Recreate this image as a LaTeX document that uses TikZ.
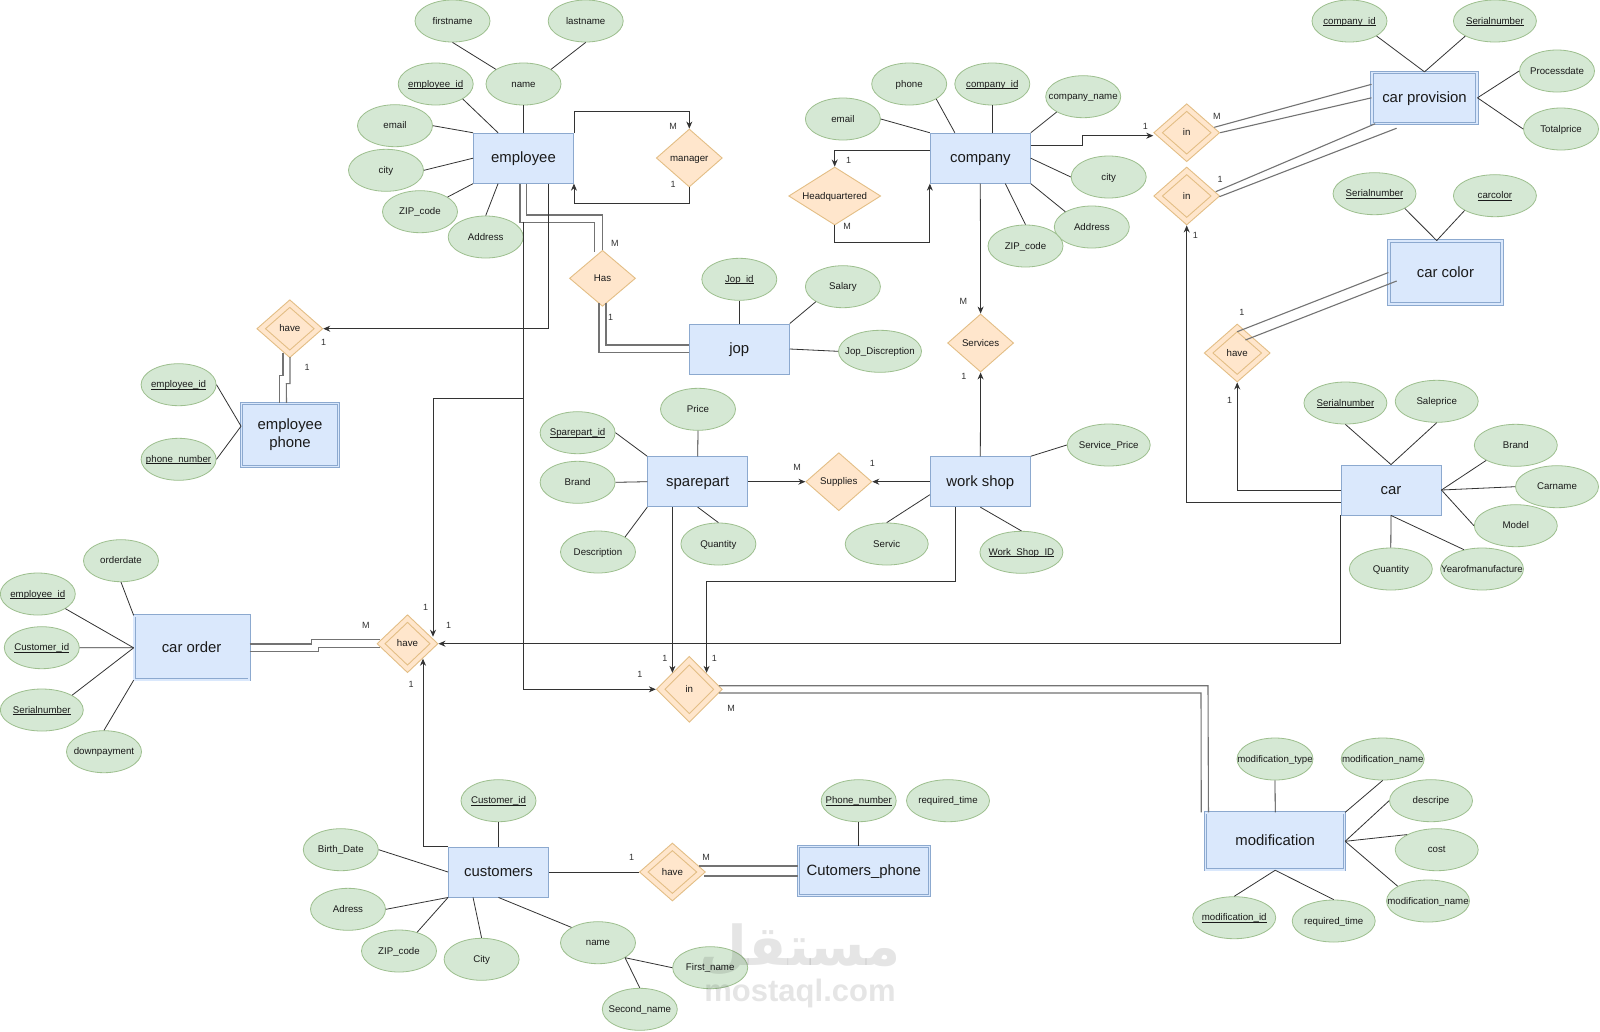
\documentclass[tikz,border=0pt]{standalone}
\usepackage{fontspec}
\setmainfont{Liberation Sans}
\newfontfamily\arabicfont[Script=Arabic]{DejaVu Sans}
\TeXXeTstate=1
\usetikzlibrary{shapes.geometric,arrows.meta,calc}
\newcommand{\zw}[1]{\makebox[0pt]{#1}}
\newsavebox{\kybox}
\newcommand{\ky}[1]{\makebox[0pt]{\sbox{\kybox}{#1}\rlap{\rule[-1.5pt]{\wd\kybox}{.7pt}}\usebox{\kybox}}}
\definecolor{attrfill}{HTML}{D5E8D4}
\definecolor{attrline}{HTML}{9DBF8E}
\definecolor{entfill}{HTML}{DAE8FC}
\definecolor{entline}{HTML}{8CA9CF}
\definecolor{relfill}{HTML}{FFE6CC}
\definecolor{relline}{HTML}{E3BE85}
\definecolor{txt}{HTML}{1A1A1A}
\tikzset{
  attr/.style={ellipse,draw=attrline,fill=attrfill,line width=.8pt,minimum width=75pt,minimum height=42pt,inner sep=0pt,font=\fontsize{9.7}{11}\selectfont,text=txt,text height=7.5pt,text depth=1.5pt},
  attrw/.style={attr,minimum width=83pt},
  ent/.style={rectangle,draw=entline,fill=entfill,line width=.9pt,inner sep=0pt,minimum width=100pt,minimum height=50pt,font=\fontsize{14.9}{18}\selectfont,text=txt,align=center,text height=12pt,text depth=3pt},
  went/.style={ent,double=entfill,double distance=1.4pt},
  rel/.style={diamond,draw=relline,fill=relfill,line width=.9pt,inner sep=0pt,minimum width=66pt,minimum height=58pt,font=\fontsize{9.7}{11}\selectfont,text=txt,text height=7.5pt,text depth=1.5pt},
  wrel/.style={rel,path picture={
    \draw[draw=relline,line width=.9pt]
      ($(path picture bounding box.center)!.74!(path picture bounding box.north)$) --
      ($(path picture bounding box.center)!.74!(path picture bounding box.east)$) --
      ($(path picture bounding box.center)!.74!(path picture bounding box.south)$) --
      ($(path picture bounding box.center)!.74!(path picture bounding box.west)$) -- cycle;}},
  lnk/.style={draw=black!80,line width=.8pt},
  arr/.style={lnk,-{Stealth[length=7pt,width=6pt]}},
  dbl/.style={draw=black!55,line width=1.1pt},
  lbl/.style={font=\fontsize{9}{10}\selectfont,text=black!80,inner sep=0pt}
}
\begin{document}
\begin{tikzpicture}[x=1pt,y=-1pt]
\useasboundingbox (0,0) rectangle (1600,1031);
\fill[white] (0,0) rectangle (1600,1031);
% employee
\node[ent] (employee) at (523.5,158.2) {employee};
\node[attr] (firstname) at (452.5,21) {\zw{firstname}};
\node[attr] (lastname) at (585.7,21) {\zw{lastname}};
\node[attr] (empid) at (435.7,84) {\ky{employee\_id}};
\node[attr] (empname) at (523.5,84) {\zw{name}};
\node[attr] (empemail) at (395,125.7) {\zw{email}};
\node[attr] (empcity) at (386,170.3) {\zw{city}};
\node[attr] (empzip) at (420,211.7) {\zw{ZIP\_code}};
\node[attr] (empaddr) at (485.7,237) {\zw{Address}};
\node[rel] (manager) at (689.3,158) {\zw{manager}};
\node[rel,minimum height=56pt] (has) at (602.5,278.3) {\zw{Has}};
\node[wrel] (haveone) at (289.8,328.7) {\zw{have}};
\node[went,minimum width=97pt,minimum height=63pt,text height=,text depth=] (ephone) at (290,434.7) {employee\\phone};
\node[attr] (epid) at (178.6,384.7) {\ky{employee\_id}};
\node[attr] (epnum) at (178.6,459.3) {\ky{phone\_number}};
% jop
\node[ent] (jop) at (739.3,349) {jop};
\node[attr] (jopid) at (739.3,279.3) {\ky{Jop\_id}};
\node[attr] (salary) at (842.9,286.7) {\zw{Salary}};
\node[attrw] (jopdesc) at (880,351.3) {\zw{Jop\_Discreption}};
% sparepart
\node[ent] (sparepart) at (697.7,481.7) {sparepart};
\node[attr] (price) at (698,409.3) {\zw{Price}};
\node[attr] (spid) at (577.6,432.7) {\ky{Sparepart\_id}};
\node[attr] (spbrand) at (577.6,482.3) {\zw{Brand}};
\node[attr] (spdesc) at (598,552) {\zw{Description}};
\node[attr] (spqty) at (718.4,544) {\zw{Quantity}};
% company
\node[ent] (company) at (980.3,158.2) {company};
\node[attr] (cophone) at (909.2,84) {\zw{phone}};
\node[attr] (coid) at (992.3,84) {\ky{company\_id}};
\node[attr] (coname) at (1083.2,96.7) {\zw{company\_name}};
\node[attr] (coemail) at (842.9,119) {\zw{email}};
\node[attr] (cocity) at (1108.7,177) {\zw{city}};
\node[attr] (coaddr) at (1091.8,227) {\zw{Address}};
\node[attr] (cozip) at (1025.5,246) {\zw{ZIP\_code}};
\node[rel,minimum width=92pt] (hq) at (834.7,196) {\zw{Headquartered}};
\node[rel] (services) at (980.6,343) {\zw{Services}};
\node[rel] (supplies) at (838.8,481.7) {\zw{Supplies}};
% work shop
\node[ent] (workshop) at (980.3,481.7) {work shop};
\node[attrw] (wsprice) at (1108.7,445) {\zw{Service\_Price}};
\node[attrw] (wsserv) at (886.7,544) {\zw{Servic}};
\node[attrw] (wsid) at (1021.4,552.3) {\ky{Work\_Shop\_ID}};
% car provision
\node[wrel] (inone) at (1186.7,132.7) {\zw{in}};
\node[wrel] (intwo) at (1186.7,196) {\zw{in}};
\node[went,minimum width=105pt,minimum height=51pt] (carprov) at (1424.5,97.8) {car provision};
\node[attr] (cpco) at (1349.5,21) {\ky{company\_id}};
\node[attrw] (cpser) at (1494.9,21) {\ky{Serialnumber}};
\node[attr] (cpdate) at (1557,71) {\zw{Processdate}};
\node[attr] (cptotal) at (1561,129) {\zw{Totalprice}};
% car color
\node[went,minimum width=113pt,minimum height=63pt] (carcolor) at (1445.4,272.5) {car color};
\node[attrw] (ccser) at (1374.5,193.7) {\ky{Serialnumber}};
\node[attrw] (cccol) at (1494.9,195.7) {\ky{carcolor}};
\node[wrel] (havethree) at (1237.2,353) {\zw{have}};
% car
\node[ent] (car) at (1391,490) {car};
\node[attrw] (carser) at (1345.4,403) {\ky{Serialnumber}};
\node[attrw] (carsale) at (1436.7,401.3) {\zw{Saleprice}};
\node[attrw] (carbrand) at (1515.8,445.3) {\zw{Brand}};
\node[attrw] (carnm) at (1557,486.7) {\zw{Carname}};
\node[attrw] (carmodel) at (1515.8,525.7) {\zw{Model}};
\node[attrw] (carqty) at (1390.8,569) {\zw{Quantity}};
\node[attrw] (caryear) at (1482,569) {\zw{Yearofmanufacture}};
% car order
\node[went,minimum width=115pt,minimum height=64pt] (carorder) at (191.6,647.8) {car order};
\node[attr] (coorder) at (121,560.7) {\zw{orderdate}};
\node[attr] (coemp) at (37.8,594) {\ky{employee\_id}};
\node[attr] (cocust) at (41.8,647.7) {\ky{Customer\_id}};
\node[attrw] (coser) at (41.8,710) {\ky{Serialnumber}};
\node[attr] (codown) at (104,751.7) {\zw{downpayment}};
\node[wrel,minimum width=61pt] (havefour) at (407.5,643.7) {\zw{have}};
\node[wrel,minimum height=66pt] (inthree) at (689.3,689.3) {\zw{in}};
% customers
\node[ent] (customers) at (498.5,872) {customers};
\node[attr] (cuid) at (498.5,800.7) {\ky{Customer\_id}};
\node[attr] (cubirth) at (340.8,849.7) {\zw{Birth\_Date}};
\node[attr] (cuaddr) at (348,909.3) {\zw{Adress}};
\node[attr] (cuzip) at (399,951) {\zw{ZIP\_code}};
\node[attr] (cucity) at (481.6,959.3) {\zw{City}};
\node[attr] (cuname) at (598,942.7) {\zw{name}};
\node[attr] (cufirst) at (710.2,967.7) {\zw{First\_name}};
\node[attr] (cusecond) at (639.8,1009.3) {\zw{Second\_name}};
\node[wrel] (havefive) at (672.4,872) {\zw{have}};
\node[went,minimum width=131pt,minimum height=49pt] (cuphone) at (863.7,871) {Cutomers\_phone};
\node[attr] (cunum) at (858.7,800.7) {\ky{Phone\_number}};
\node[attrw] (cutime) at (948,800.7) {\zw{required\_time}};
% modification
\node[went,minimum width=139pt,minimum height=57pt] (modif) at (1275.2,841.3) {modification};
\node[attr,minimum width=76pt] (mtype) at (1275,759) {\zw{modification\_type}};
\node[attrw] (mname) at (1382.7,759) {\zw{modification\_name}};
\node[attrw] (mdesc) at (1431,800.7) {\zw{descripe}};
\node[attrw] (mcost) at (1436.7,849.7) {\zw{cost}};
\node[attrw] (mnametwo) at (1428,901) {\zw{modification\_name}};
\node[attrw] (mid) at (1234.2,917.7) {\ky{modification\_id}};
\node[attrw] (mtime) at (1333.7,921) {\zw{required\_time}};
% attribute links
\draw[lnk] (firstname.south) -- (empname.152);
\draw[lnk] (lastname.south) -- (empname.28);
\draw[lnk] (empid.-29) -- ([xshift=25pt]employee.north west);
\draw[lnk] (empname.south) -- (employee.north);
\draw[lnk] (empemail.east) -- (employee.north west);
\draw[lnk] (empcity.east) -- (employee.west);
\draw[lnk] (empzip.28) -- (employee.south west);
\draw[lnk] (empaddr.north) -- ([xshift=25pt]employee.south west);
\draw[lnk] (epid.east) -- ([yshift=8.5pt]ephone.west);
\draw[lnk] (epnum.east) -- ([yshift=8.5pt]ephone.west);
\draw[lnk] (jopid.south) -- (jop.north);
\draw[lnk] (salary.209) -- (jop.north east);
\draw[lnk] (jopdesc.west) -- (jop.east);
\draw[lnk] (price.south) -- (sparepart.north);
\draw[lnk] (spid.east) -- (sparepart.north west);
\draw[lnk] (spbrand.east) -- (sparepart.west);
\draw[lnk] (spdesc.29) -- (sparepart.south west);
\draw[lnk] (spqty.north) -- (sparepart.south);
\draw[lnk] (coemail.east) -- (company.north west);
\draw[lnk] (cophone.-29) -- ([xshift=25pt]company.north west);
\draw[lnk] (coid.south) -- ([xshift=12pt]company.north);
\draw[lnk] (coname.210) -- (company.north east);
\draw[lnk] (cocity.west) -- (company.east);
\draw[lnk] (coaddr.150) -- (company.south east);
\draw[lnk] (cozip.north) -- ([xshift=25pt]company.south);
\draw[lnk] (wsprice.west) -- (workshop.north east);
\draw[lnk] (wsserv.north) -- ([yshift=-13pt]workshop.west);
\draw[lnk] (wsid.north) -- (workshop.south);
\draw[lnk] (cpco.-29) -- (carprov.north);
\draw[lnk] (cpser.207) -- (carprov.north);
\draw[lnk] (cpdate.west) -- (carprov.east);
\draw[lnk] (cptotal.west) -- (carprov.east);
\draw[lnk] (ccser.-26) -- ([xshift=-8.7pt]carcolor.north);
\draw[lnk] (cccol.206) -- ([xshift=-8.7pt]carcolor.north);
\draw[lnk] (carser.south) -- (car.north);
\draw[lnk] (carsale.south) -- (car.north);
\draw[lnk] (carbrand.207) -- (car.east);
\draw[lnk] (carnm.west) -- (car.east);
\draw[lnk] (carmodel.west) -- (car.east);
\draw[lnk] (carqty.north) -- (car.south);
\draw[lnk] (caryear.133) -- (car.south);
\draw[lnk] (coorder.south) -- (carorder.north west);
\draw[lnk] (coemp.-28) -- (carorder.west);
\draw[lnk] (cocust.east) -- (carorder.west);
\draw[lnk] (coser.26) -- (carorder.west);
\draw[lnk] (codown.north) -- (carorder.south west);
\draw[lnk] (cuid.south) -- (customers.north);
\draw[lnk] (cubirth.east) -- (customers.west);
\draw[lnk] (cuaddr.east) -- (customers.south west);
\draw[lnk] (cuzip.46) -- (customers.south west);
\draw[lnk] (cucity.north) -- ([xshift=25pt]customers.south west);
\draw[lnk] (cuname.150) -- (customers.south);
\draw[lnk] (cufirst.west) -- (cuname.-29);
\draw[lnk] (cusecond.north) -- (cuname.-29);
\draw[lnk] (cunum.south) -- ([xshift=-5pt]cuphone.north);
\draw[lnk] (mtype.south) -- (modif.north);
\draw[lnk] (mname.south) -- (modif.north east);
\draw[lnk] (mdesc.west) -- (modif.east);
\draw[lnk] (mcost.153) -- (modif.east);
\draw[lnk] (mnametwo.154) -- (modif.east);
\draw[lnk] (mid.north) -- (modif.south);
\draw[lnk] (mtime.north) -- (modif.south);
% relationship connectors
\draw[arr] (employee.north east) -- ++(0,-21) -| (manager.north);
\draw[arr] (manager.south) -- ++(0,16.3) -| (employee.south east);
\draw[dbl] ([xshift=3.2pt]employee.south) -- ++(0,31.3) -| (has.north);
\draw[dbl] ([xshift=-3.5pt]employee.south) -- ++(0,38.7) -| ([xshift=-8pt,yshift=-2pt]has.north);
\draw[dbl] ([xshift=3.5pt,yshift=4pt]has.south) |- ([yshift=4pt]jop.west);
\draw[dbl] ([xshift=-3.5pt,yshift=4pt]has.south) |- ([yshift=-3.7pt]jop.west);
\draw[arr] ([xshift=25pt]employee.south) |- (haveone.east);
\draw[dbl] ([xshift=-6.8pt,yshift=5pt]haveone.south) -- ++(0,22) -- ++(-3.5,0) -- ([xshift=-10.5pt]ephone.north);
\draw[dbl] ([xshift=.2pt,yshift=1pt]haveone.south) -- ++(0,26.5) -- ++(-3.7,0) -- ([xshift=-3.5pt]ephone.north);
\coordinate (tapA) at (523.5,221.7);
\coordinate (tapB) at (523.5,398.7);
\draw[arr] (tapA) |- (inthree.west);
\draw[arr] (tapB) -| ([xshift=25.5pt,yshift=7pt]havefour.center);
\draw[arr] ([yshift=12.9pt]company.east) -- ++(51.6,0) |- ([yshift=-3pt]inone.west);
\draw[arr] ([yshift=7.5pt]company.west) -| (hq.north);
\draw[arr] (hq.south) -- ++(0,16.7) -| (company.south west);
\draw[arr] (company.south) -- (services.north);
\draw[arr] (workshop.north) -- (services.south);
\draw[arr] (workshop.west) -- (supplies.east);
\draw[arr] (sparepart.east) -- (supplies.west);
\draw[dbl] ([xshift=27.6pt,yshift=5.4pt]inone.center) -- ([yshift=13.5pt]carprov.west);
\draw[dbl] (inone.east) -- (carprov.west);
\draw[dbl] ([xshift=29pt,yshift=4.3pt]intwo.center) -- ([xshift=3.6pt]carprov.south west);
\draw[dbl] ([xshift=32.7pt,yshift=-.7pt]intwo.center) -- ([xshift=25pt,yshift=-4.5pt]carprov.south west);
\draw[dbl] ([yshift=21.3pt]havethree.center) -- (carcolor.west);
\draw[dbl] ([xshift=8.2pt,yshift=13pt]havethree.center) -- ([xshift=8.2pt,yshift=-8.5pt]carcolor.west);
\draw[arr] (car.west) -| (havethree.south);
\draw[arr] ([yshift=-12.3pt]car.west) -| (intwo.south);
\draw[arr] (car.south west) |- (havefour.east);
\draw[arr] ([xshift=-25.3pt]sparepart.south) -- ([xshift=-16.9pt,yshift=16.5pt]inthree.center);
\draw[arr] ([xshift=-24.7pt]workshop.south) |- (830,581.3) -| ([xshift=17.3pt,yshift=16.5pt]inthree.center);
\draw[dbl] ([yshift=3.8pt]carorder.east) -- (311.2,644) -- (311.2,639.7) -- ([xshift=-27.5pt,yshift=4pt]havefour.center);
\draw[dbl] ([yshift=-3.9pt]carorder.east) -- (318.9,651.7) -- (318.9,647.3) -- ([xshift=-28pt,yshift=-3.6pt]havefour.center);
\draw[arr] (customers.north west) -| ([xshift=15.5pt,yshift=-15pt]havefour.center);
\draw[lnk] (customers.east) -- (havefive.west);
\draw[dbl] ([xshift=26.3pt,yshift=6pt]havefive.center) -- ([yshift=5pt]cuphone.west);
\draw[dbl] ([xshift=32pt,yshift=-4pt]havefive.center) -- ([yshift=-5pt]cuphone.west);
\draw[dbl] ([xshift=29.5pt,yshift=3.6pt]inthree.center) -- ++(489.2,0) -- ([xshift=3.2pt]modif.north west);
\draw[dbl] ([xshift=29.5pt,yshift=-3.7pt]inthree.center) -- ++(482.2,0) -- ([xshift=-4pt]modif.north west);
% cardinalities
\node[lbl] (la) at (673,126.7) {M};
\node[lbl] (lb) at (673,184.3) {1};
\node[lbl] (lc) at (614.8,243) {M};
\node[lbl] (ld) at (610.7,317.7) {1};
\node[lbl] (le) at (323.5,342.3) {1};
\node[lbl] (lf) at (307,367.7) {1};
\node[lbl] (lg) at (848.5,160) {1};
\node[lbl] (lh) at (847,226.7) {M};
\node[lbl] (li) at (1145.4,126) {1};
\node[lbl] (lj) at (1216.8,116) {M};
\node[lbl] (lk) at (1220,179.7) {1};
\node[lbl] (ll) at (1195.4,235) {1};
\node[lbl] (lm) at (1241.8,312) {1};
\node[lbl] (ln) at (1229.6,400.3) {1};
\node[lbl] (lo) at (963.3,301.3) {M};
\node[lbl] (lp) at (963.8,376) {1};
\node[lbl] (lq) at (872.4,463.7) {1};
\node[lbl] (lr) at (797,467.3) {M};
\node[lbl] (ls) at (425.5,607) {1};
\node[lbl] (lt) at (365.8,625) {M};
\node[lbl] (lu) at (448.5,625) {1};
\node[lbl] (lv) at (411.2,684.7) {1};
\node[lbl] (lw) at (664.8,658.3) {1};
\node[lbl] (lx) at (714.3,658.3) {1};
\node[lbl] (ly) at (639.8,674.7) {1};
\node[lbl] (lz) at (731,708) {M};
\node[lbl] (lza) at (631.6,857.3) {1};
\node[lbl] (lzb) at (706.1,857.3) {M};
% watermark
\node[inner sep=0pt,text=black,text opacity=.1] (wmlogo) at (800,950) {\fontsize{55}{55}\selectfont\arabicfont\bfseries\beginR مستقل\endR};
\node[inner sep=0pt,text=black,text opacity=.1,font=\fontsize{31}{31}\selectfont\bfseries] (wmtext) at (800,993) {mostaql.com};
\end{tikzpicture}
\end{document}
